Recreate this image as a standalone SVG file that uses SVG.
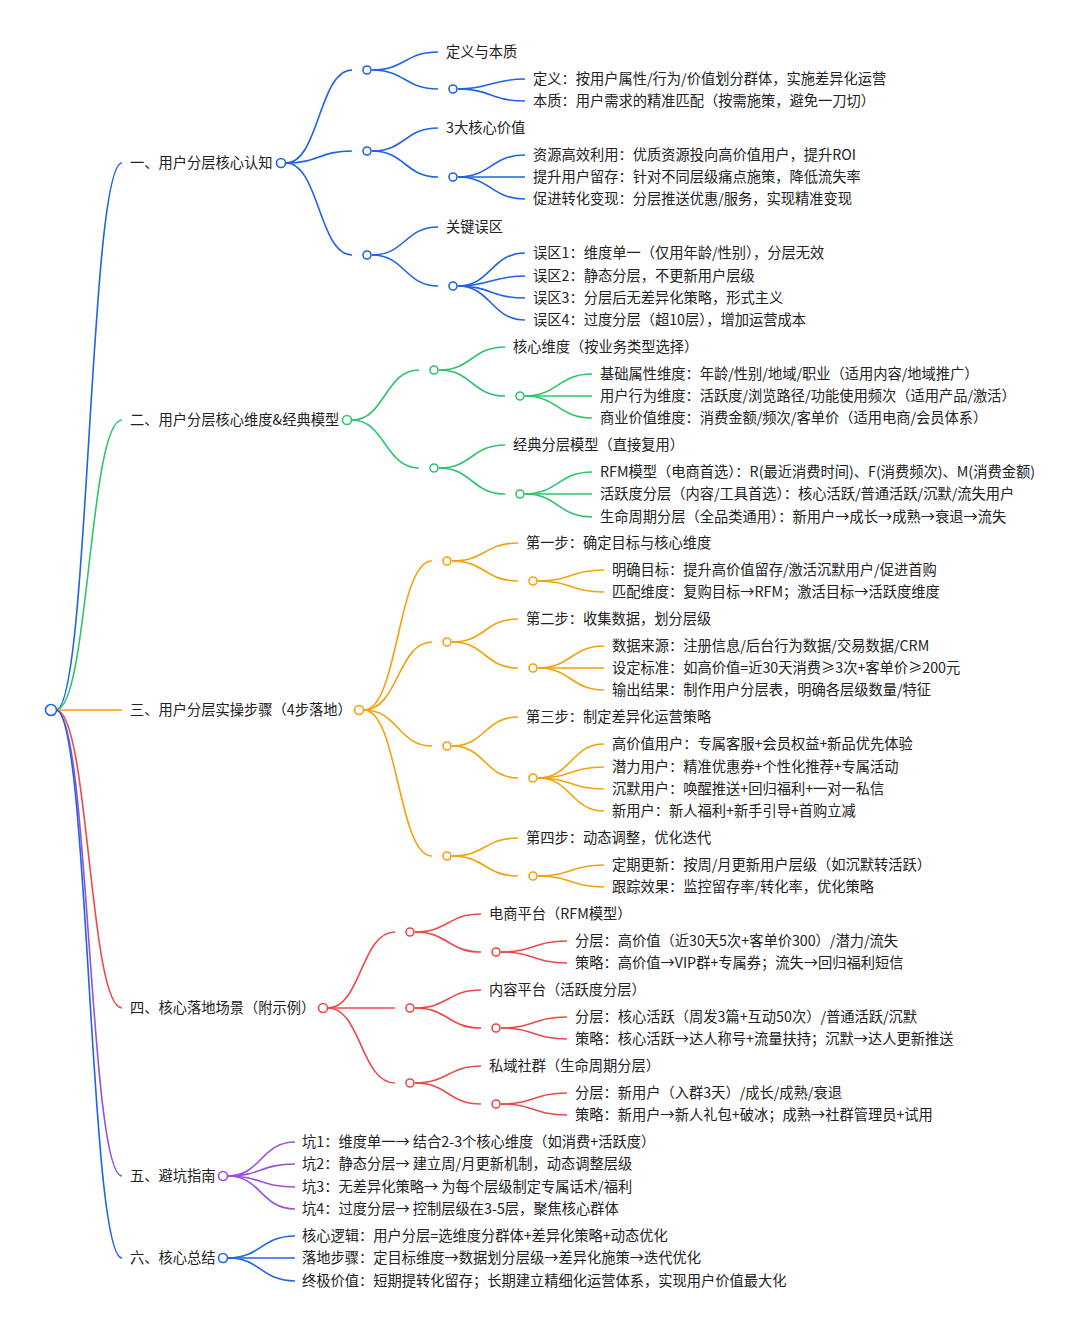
<svg xmlns="http://www.w3.org/2000/svg" width="1080" height="1332" viewBox="0 0 1080 1332">
<style>
text{font-family:"Noto Sans CJK SC","Noto Sans",sans-serif;font-size:14.25px;fill:#222}
path{fill:none;stroke-width:1.6}
circle{fill:#fff;stroke-width:1.6}
.b{stroke:#1f63e6}.g{stroke:#2fc46b}.o{stroke:#f5a10a}.r{stroke:#ec4a4a}.p{stroke:#9a50d8}
</style>
<rect width="1080" height="1332" fill="#fff"/>
<g id="connectors">
<path class="b" d="M56 710C89 710 89 163 122 163"/>
<path class="g" d="M56 710C89 710 89 420 122 420"/>
<path class="o" d="M56 710C89 710 89 710 122 710"/>
<path class="r" d="M56 710C89 710 89 1008 122 1008"/>
<path class="p" d="M56 710C89 710 89 1176 122 1176"/>
<path class="b" d="M56 710C89 710 89 1258 122 1258"/>
<g class="b">
<path d="M286 163C319 163 319 70 352 70"/><path d="M286 163C319 163 319 151 352 151"/><path d="M286 163C319 163 319 255 352 255"/>
<path d="M372 70C405 70 405 52 438 52"/><path d="M372 70C405 70 405 89 438 89"/>
<path d="M458 89C491 89 491 79 525 79"/><path d="M458 89C491 89 491 101 525 101"/>
<path d="M372 151C405 151 405 128 438 128"/><path d="M372 151C405 151 405 177 438 177"/>
<path d="M458 177C491 177 491 155 525 155"/><path d="M458 177C491 177 491 177 525 177"/><path d="M458 177C491 177 491 199 525 199"/>
<path d="M372 255C405 255 405 227 438 227"/><path d="M372 255C405 255 405 286 438 286"/>
<path d="M458 286C491 286 491 253 525 253"/><path d="M458 286C491 286 491 276 525 276"/><path d="M458 286C491 286 491 298 525 298"/><path d="M458 286C491 286 491 320 525 320"/>
</g>
<g class="g">
<path d="M352 420C385 420 385 370 419 370"/><path d="M352 420C385 420 385 468 419 468"/>
<path d="M439 370C472 370 472 347 505 347"/><path d="M439 370C472 370 472 396 505 396"/>
<path d="M525 396C558 396 558 374 592 374"/><path d="M525 396C558 396 558 396 592 396"/><path d="M525 396C558 396 558 418 592 418"/>
<path d="M439 468C472 468 472 445 505 445"/><path d="M439 468C472 468 472 494 505 494"/>
<path d="M525 494C558 494 558 472 592 472"/><path d="M525 494C558 494 558 494 592 494"/><path d="M525 494C558 494 558 517 592 517"/>
</g>
<g class="o">
<path d="M364 710C398 710 398 561 432 561"/><path d="M364 710C398 710 398 642 432 642"/><path d="M364 710C398 710 398 746 432 746"/><path d="M364 710C398 710 398 856 432 856"/>
<path d="M452 561C485 561 485 543 518 543"/><path d="M452 561C485 561 485 581 518 581"/>
<path d="M538 581C571 581 571 570 604 570"/><path d="M538 581C571 581 571 592 604 592"/>
<path d="M452 642C485 642 485 619 518 619"/><path d="M452 642C485 642 485 668 518 668"/>
<path d="M538 668C571 668 571 646 604 646"/><path d="M538 668C571 668 571 668 604 668"/><path d="M538 668C571 668 571 690 604 690"/>
<path d="M452 746C485 746 485 717 518 717"/><path d="M452 746C485 746 485 778 518 778"/>
<path d="M538 778C571 778 571 744 604 744"/><path d="M538 778C571 778 571 767 604 767"/><path d="M538 778C571 778 571 789 604 789"/><path d="M538 778C571 778 571 811 604 811"/>
<path d="M452 856C485 856 485 838 518 838"/><path d="M452 856C485 856 485 876 518 876"/>
<path d="M538 876C571 876 571 865 604 865"/><path d="M538 876C571 876 571 887 604 887"/>
</g>
<g class="r">
<path d="M328 1008C361 1008 361 932 395 932"/><path d="M328 1008C361 1008 361 1008 395 1008"/><path d="M328 1008C361 1008 361 1083 395 1083"/>
<path d="M415 932C448 932 448 914 481 914"/><path d="M415 932C448 932 448 952 481 952"/>
<path d="M501 952C534 952 534 941 567 941"/><path d="M501 952C534 952 534 963 567 963"/>
<path d="M415 1008C448 1008 448 990 481 990"/><path d="M415 1008C448 1008 448 1028 481 1028"/>
<path d="M501 1028C534 1028 534 1017 567 1017"/><path d="M501 1028C534 1028 534 1039 567 1039"/>
<path d="M415 1083C448 1083 448 1066 481 1066"/><path d="M415 1083C448 1083 448 1104 481 1104"/>
<path d="M501 1104C534 1104 534 1093 567 1093"/><path d="M501 1104C534 1104 534 1115 567 1115"/>
</g>
<g class="p">
<path d="M228 1176C261 1176 261 1142 295 1142"/><path d="M228 1176C261 1176 261 1164 295 1164"/><path d="M228 1176C261 1176 261 1187 295 1187"/><path d="M228 1176C261 1176 261 1209 295 1209"/>
</g>
<g class="b">
<path d="M228 1258C261 1258 261 1236 295 1236"/><path d="M228 1258C261 1258 261 1258 295 1258"/><path d="M228 1258C261 1258 261 1281 295 1281"/>
</g>
</g>
<g id="root"><circle class="b" cx="51" cy="710" r="5.5"/></g>
<g id="b1"><text x="130" y="168">一、用户分层核心认知</text><circle class="b" cx="281" cy="163" r="4.5"/>
<circle class="b" cx="367" cy="70" r="4"/><circle class="b" cx="367" cy="151" r="4"/><circle class="b" cx="367" cy="255" r="4"/>
<circle class="b" cx="453" cy="89" r="4"/><circle class="b" cx="453" cy="177" r="4"/><circle class="b" cx="453" cy="286" r="4"/>
<text x="446" y="57">定义与本质</text>
<text x="533" y="84">定义：按用户属性/行为/价值划分群体，实施差异化运营</text>
<text x="533" y="106">本质：用户需求的精准匹配（按需施策，避免一刀切）</text>
<text x="446" y="133">3大核心价值</text>
<text x="533" y="160">资源高效利用：优质资源投向高价值用户，提升ROI</text>
<text x="533" y="182">提升用户留存：针对不同层级痛点施策，降低流失率</text>
<text x="533" y="204">促进转化变现：分层推送优惠/服务，实现精准变现</text>
<text x="446" y="232">关键误区</text>
<text x="533" y="258">误区1：维度单一（仅用年龄/性别），分层无效</text>
<text x="533" y="281">误区2：静态分层，不更新用户层级</text>
<text x="533" y="303">误区3：分层后无差异化策略，形式主义</text>
<text x="533" y="325">误区4：过度分层（超10层），增加运营成本</text>
</g>
<g id="b2"><text x="130" y="425">二、用户分层核心维度&amp;经典模型</text><circle class="g" cx="347" cy="420" r="4.5"/>
<circle class="g" cx="434" cy="370" r="4"/><circle class="g" cx="434" cy="468" r="4"/>
<circle class="g" cx="520" cy="396" r="4"/><circle class="g" cx="520" cy="494" r="4"/>
<text x="513" y="352">核心维度（按业务类型选择）</text>
<text x="600" y="379">基础属性维度：年龄/性别/地域/职业（适用内容/地域推广）</text>
<text x="600" y="401">用户行为维度：活跃度/浏览路径/功能使用频次（适用产品/激活）</text>
<text x="600" y="423">商业价值维度：消费金额/频次/客单价（适用电商/会员体系）</text>
<text x="513" y="450">经典分层模型（直接复用）</text>
<text x="600" y="477">RFM模型（电商首选）：R(最近消费时间)、F(消费频次)、M(消费金额)</text>
<text x="600" y="499">活跃度分层（内容/工具首选）：核心活跃/普通活跃/沉默/流失用户</text>
<text x="600" y="522">生命周期分层（全品类通用）：新用户→成长→成熟→衰退→流失</text>
</g>
<g id="b3"><text x="130" y="715">三、用户分层实操步骤（4步落地）</text><circle class="o" cx="359" cy="710" r="4.5"/>
<circle class="o" cx="447" cy="561" r="4"/><circle class="o" cx="447" cy="642" r="4"/><circle class="o" cx="447" cy="746" r="4"/><circle class="o" cx="447" cy="856" r="4"/>
<circle class="o" cx="533" cy="581" r="4"/><circle class="o" cx="533" cy="668" r="4"/><circle class="o" cx="533" cy="778" r="4"/><circle class="o" cx="533" cy="876" r="4"/>
<text x="526" y="548">第一步：确定目标与核心维度</text>
<text x="612" y="575">明确目标：提升高价值留存/激活沉默用户/促进首购</text>
<text x="612" y="597">匹配维度：复购目标→RFM；激活目标→活跃度维度</text>
<text x="526" y="624">第二步：收集数据，划分层级</text>
<text x="612" y="651">数据来源：注册信息/后台行为数据/交易数据/CRM</text>
<text x="612" y="673">设定标准：如高价值=近30天消费≥3次+客单价≥200元</text>
<text x="612" y="695">输出结果：制作用户分层表，明确各层级数量/特征</text>
<text x="526" y="722">第三步：制定差异化运营策略</text>
<text x="612" y="749">高价值用户：专属客服+会员权益+新品优先体验</text>
<text x="612" y="772">潜力用户：精准优惠券+个性化推荐+专属活动</text>
<text x="612" y="794">沉默用户：唤醒推送+回归福利+一对一私信</text>
<text x="612" y="816">新用户：新人福利+新手引导+首购立减</text>
<text x="526" y="843">第四步：动态调整，优化迭代</text>
<text x="612" y="870">定期更新：按周/月更新用户层级（如沉默转活跃）</text>
<text x="612" y="892">跟踪效果：监控留存率/转化率，优化策略</text>
</g>
<g id="b4"><text x="130" y="1013">四、核心落地场景（附示例）</text><circle class="r" cx="323" cy="1008" r="4.5"/>
<circle class="r" cx="410" cy="932" r="4"/><circle class="r" cx="410" cy="1008" r="4"/><circle class="r" cx="410" cy="1083" r="4"/>
<circle class="r" cx="496" cy="952" r="4"/><circle class="r" cx="496" cy="1028" r="4"/><circle class="r" cx="496" cy="1104" r="4"/>
<text x="489" y="919">电商平台（RFM模型）</text>
<text x="575" y="946">分层：高价值（近30天5次+客单价300）/潜力/流失</text>
<text x="575" y="968">策略：高价值→VIP群+专属券；流失→回归福利短信</text>
<text x="489" y="995">内容平台（活跃度分层）</text>
<text x="575" y="1022">分层：核心活跃（周发3篇+互动50次）/普通活跃/沉默</text>
<text x="575" y="1044">策略：核心活跃→达人称号+流量扶持；沉默→达人更新推送</text>
<text x="489" y="1071">私域社群（生命周期分层）</text>
<text x="575" y="1098">分层：新用户（入群3天）/成长/成熟/衰退</text>
<text x="575" y="1120">策略：新用户→新人礼包+破冰；成熟→社群管理员+试用</text>
</g>
<g id="b5"><text x="130" y="1181">五、避坑指南</text><circle class="p" cx="223" cy="1176" r="4.5"/>
<text x="302" y="1147">坑1：维度单一→ 结合2-3个核心维度（如消费+活跃度）</text>
<text x="302" y="1169">坑2：静态分层→ 建立周/月更新机制，动态调整层级</text>
<text x="302" y="1192">坑3：无差异化策略→ 为每个层级制定专属话术/福利</text>
<text x="302" y="1214">坑4：过度分层→ 控制层级在3-5层，聚焦核心群体</text>
</g>
<g id="b6"><text x="130" y="1263">六、核心总结</text><circle class="b" cx="223" cy="1258" r="4.5"/>
<text x="302" y="1241">核心逻辑：用户分层=选维度分群体+差异化策略+动态优化</text>
<text x="302" y="1263">落地步骤：定目标维度→数据划分层级→差异化施策→迭代优化</text>
<text x="302" y="1286">终极价值：短期提转化留存；长期建立精细化运营体系，实现用户价值最大化</text>
</g>
</svg>
